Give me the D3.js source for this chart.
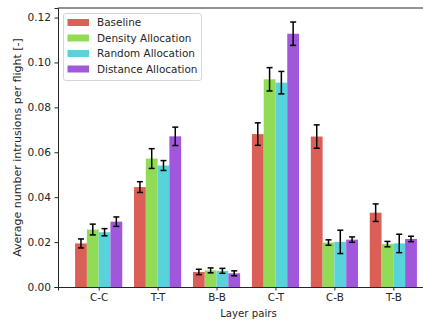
<!DOCTYPE html>
<html>
<head>
<meta charset="utf-8">
<script src="https://cdn.jsdelivr.net/npm/d3@7"></script>
<style>
  html, body { margin: 0; padding: 0; background: #fff; }
  svg { display: block; font-family: "DejaVu Sans", sans-serif; }
</style>
</head>
<body>
<svg id="chart" width="423" height="321"></svg>
<script>
// Layer pairs along the x axis
const categories = ["C-C", "T-T", "B-B", "C-T", "C-B", "T-B"];
const seriesNames = ["Baseline", "Density Allocation", "Random Allocation", "Distance Allocation"];
const seriesColors = ["#db5f57", "#91db57", "#57d3db", "#a157db"];

// Mean intrusions per flight, one array per allocation strategy
const baseline = [0.0194, 0.0445, 0.0067, 0.0681, 0.0670, 0.0331];
const density  = [0.0256, 0.0572, 0.0074, 0.0925, 0.0198, 0.0191];
const random   = [0.0244, 0.0541, 0.0072, 0.0910, 0.0201, 0.0194];
const distance = [0.0291, 0.0671, 0.0061, 0.1128, 0.0211, 0.0214];

// Half-length of each error bar
const baselineErr = [0.0020, 0.0024, 0.0012, 0.0050, 0.0052, 0.0039];
const densityErr  = [0.0024, 0.0044, 0.0011, 0.0052, 0.0012, 0.0012];
const randomErr   = [0.0016, 0.0022, 0.0011, 0.0050, 0.0052, 0.0041];
const distanceErr = [0.0021, 0.0041, 0.0011, 0.0052, 0.0012, 0.0012];

const yTicks = [0.00, 0.02, 0.04, 0.06, 0.08, 0.10, 0.12];

const values = [baseline, density, random, distance];
const errors = [baselineErr, densityErr, randomErr, distanceErr];

const svg = d3.select("#chart");
const plotLeft = 58, plotTop = 8, plotBottom = 287, plotRight = 434;
const barW = 0.2;
const nS = seriesNames.length;

// x in category units; bars offset within each group
const x = d3.scaleLinear().domain([-0.69, categories.length - 1 + 0.69]).range([plotLeft, plotRight]);
const yMax = d3.max(values.flatMap((v, s) => v.map((d, i) => d + errors[s][i]))) * 1.053;
const y = d3.scaleLinear().domain([0, yMax]).range([plotBottom, plotTop]);

const textColor = "#262626";

// Bars
const bars = [];
values.forEach((vals, s) => {
  vals.forEach((v, i) => {
    bars.push({ s, i, v, e: errors[s][i], cx: i + (s - (nS - 1) / 2) * barW });
  });
});

svg.append("g").selectAll("rect").data(bars).join("rect")
  .attr("x", d => x(d.cx - barW / 2))
  .attr("width", d => x(d.cx + barW / 2) - x(d.cx - barW / 2))
  .attr("y", d => y(d.v))
  .attr("height", d => y(0) - y(d.v))
  .attr("fill", d => seriesColors[d.s]);

// Error bars with caps
const eg = svg.append("g").attr("stroke", "#000").attr("stroke-width", 1.5);
bars.forEach(d => {
  const cx = x(d.cx);
  eg.append("line").attr("x1", cx).attr("x2", cx).attr("y1", y(d.v - d.e)).attr("y2", y(d.v + d.e));
  [d.v - d.e, d.v + d.e].forEach(t => {
    eg.append("line").attr("x1", cx - 3).attr("x2", cx + 3).attr("y1", y(t)).attr("y2", y(t));
  });
});

// Axes
const xAxis = d3.axisBottom(x).tickValues(d3.range(categories.length))
  .tickFormat(i => categories[i]).tickSize(3.5).tickPadding(3.5);
const gx = svg.append("g").attr("transform", `translate(0,${plotBottom})`).call(xAxis);
gx.select(".domain").attr("stroke", textColor).attr("stroke-width", 1);
gx.selectAll(".tick line").attr("stroke", textColor);
gx.selectAll("text").attr("fill", textColor).attr("font-size", 10.4).attr("font-family", "DejaVu Sans");

const yAxis = d3.axisLeft(y).tickValues(yTicks).tickFormat(d3.format(".2f")).tickSize(3.5).tickPadding(3.5);
const gy = svg.append("g").attr("transform", `translate(${plotLeft},0)`).call(yAxis);
gy.select(".domain").attr("stroke", textColor).attr("stroke-width", 1);
gy.selectAll(".tick line").attr("stroke", textColor);
gy.selectAll("text").attr("fill", textColor).attr("font-size", 10.6).attr("font-family", "DejaVu Sans");

// Top spine
svg.append("line").attr("x1", plotLeft).attr("x2", plotRight).attr("y1", plotTop).attr("y2", plotTop)
  .attr("stroke", textColor).attr("stroke-width", 1);

// Axis titles
svg.append("text").attr("x", 248.5).attr("y", 317)
  .attr("text-anchor", "middle").attr("font-size", 10.2).attr("fill", textColor)
  .text("Layer pairs");
svg.append("text")
  .attr("transform", `translate(21,147.5) rotate(-90)`)
  .attr("text-anchor", "middle").attr("font-size", 11).attr("fill", textColor)
  .text("Average number intrusions per flight [-]");

// Legend
const lg = svg.append("g");
lg.append("rect").attr("x", 63.5).attr("y", 13.5).attr("width", 138).attr("height", 67)
  .attr("rx", 2.5).attr("fill", "#fff").attr("fill-opacity", 0.8)
  .attr("stroke", "#d6d6d6").attr("stroke-width", 1);
seriesNames.forEach((name, s) => {
  const cy = 22.5 + s * 15.5;
  lg.append("rect").attr("x", 67.5).attr("y", cy - 3.5).attr("width", 21.5).attr("height", 7)
    .attr("fill", seriesColors[s]);
  lg.append("text").attr("x", 97).attr("y", cy + 3.8).attr("font-size", 10.45)
    .attr("fill", textColor).text(name);
});
</script>
</body>
</html>
